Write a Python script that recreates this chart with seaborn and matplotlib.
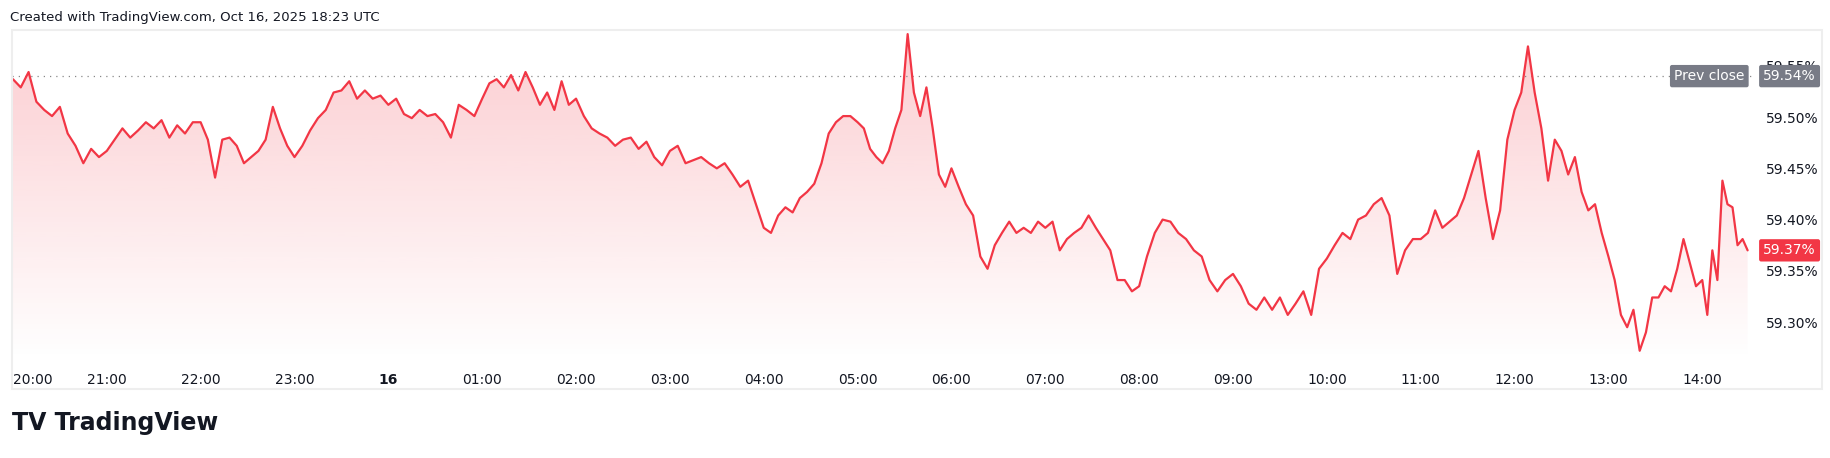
import numpy as np
import pandas as pd
import matplotlib
matplotlib.use("Agg")
import matplotlib.pyplot as plt
import seaborn as sns
from matplotlib.patches import Rectangle

# hourly segments of yield values (%), equally spaced within each hour
h20 = [59.537, 59.529, 59.544, 59.515, 59.507, 59.501, 59.510, 59.484, 59.472, 59.455, 59.469, 59.461]
h21 = [59.467, 59.478, 59.489, 59.480, 59.487, 59.495, 59.489, 59.497, 59.480, 59.492, 59.484, 59.495]
h22 = [59.495, 59.478, 59.441, 59.478, 59.480, 59.472, 59.455, 59.461, 59.467, 59.478, 59.510, 59.489, 59.472]
h23 = [59.461, 59.472, 59.487, 59.499, 59.507, 59.524, 59.526, 59.535, 59.518, 59.526, 59.518, 59.521]
h00 = [59.512, 59.518, 59.503, 59.499, 59.507, 59.501, 59.503, 59.495, 59.480, 59.512, 59.507, 59.501]
h01 = [59.518, 59.533, 59.537, 59.529, 59.541, 59.526, 59.544, 59.529, 59.512, 59.524, 59.507, 59.535, 59.512]
h02 = [59.518, 59.501, 59.489, 59.484, 59.480, 59.472, 59.478, 59.480, 59.469, 59.476, 59.461, 59.453]
h03 = [59.467, 59.472, 59.455, 59.458, 59.461, 59.455, 59.450, 59.455, 59.444, 59.432, 59.438, 59.415]
h04 = [59.392, 59.387, 59.404, 59.412, 59.407, 59.421, 59.427, 59.435, 59.455, 59.484, 59.495, 59.501, 59.501]
h05 = [59.495, 59.489, 59.469, 59.461, 59.455, 59.467, 59.489, 59.507, 59.581, 59.524, 59.501, 59.529, 59.489, 59.444, 59.432]
h06 = [59.450, 59.432, 59.415, 59.404, 59.364, 59.352, 59.375, 59.387, 59.398, 59.387, 59.392, 59.387, 59.398]
h07 = [59.392, 59.398, 59.370, 59.381, 59.387, 59.392, 59.404, 59.392, 59.381, 59.370, 59.341, 59.341, 59.330]
h08 = [59.335, 59.364, 59.387, 59.400, 59.398, 59.387, 59.381, 59.370, 59.364, 59.341, 59.330, 59.341]
h09 = [59.347, 59.335, 59.318, 59.312, 59.324, 59.312, 59.324, 59.307, 59.318, 59.330, 59.307, 59.352]
h10 = [59.362, 59.375, 59.387, 59.381, 59.400, 59.404, 59.415, 59.421, 59.404, 59.347, 59.370, 59.381]
h11 = [59.381, 59.387, 59.409, 59.392, 59.398, 59.404, 59.421, 59.444, 59.467, 59.421, 59.381, 59.409, 59.478]
h12 = [59.507, 59.524, 59.569, 59.524, 59.489, 59.438, 59.478, 59.467, 59.444, 59.461, 59.427, 59.409, 59.415, 59.387]
h13 = [59.364, 59.341, 59.307, 59.295, 59.312, 59.272, 59.290, 59.324, 59.324, 59.335, 59.330, 59.352, 59.381, 59.358, 59.335]
h14 = [59.341, 59.307, 59.370, 59.341, 59.438, 59.415, 59.412, 59.375, 59.381, 59.370]
segments = [h20, h21, h22, h23, h00, h01, h02, h03, h04, h05, h06, h07, h08, h09, h10, h11, h12, h13, h14]
last_minutes = 29
prev_close = 59.54
last_value = 59.37
yticks = [59.30, 59.35, 59.40, 59.45, 59.50, 59.55]
xtick_labels = ["20:00", "21:00", "22:00", "23:00", "16", "01:00", "02:00", "03:00", "04:00",
                "05:00", "06:00", "07:00", "08:00", "09:00", "10:00", "11:00", "12:00", "13:00", "14:00"]

start = pd.Timestamp("2025-10-15 20:00")
times, vals = [], []
for i, seg in enumerate(segments):
    span = 60 if i < len(segments) - 1 else last_minutes
    n = len(seg)
    step = span / (n if i < len(segments) - 1 else n - 1)
    for j, v in enumerate(seg):
        times.append(start + pd.Timedelta(hours=i) + pd.Timedelta(minutes=j * step))
        vals.append(v)
df = pd.DataFrame({"t": times, "v": vals})
df["h"] = (df["t"] - start).dt.total_seconds() / 3600

RED = "#F23645"
sns.set_theme(style="white")
plt.rcParams['font.family'] = ['DejaVu Sans']
fig = plt.figure(figsize=(18.31, 4.58), dpi=100)
fig.patches.append(Rectangle((12/1831, 1-389/458), (1822-12)/1831, (389-30)/458,
                             transform=fig.transFigure, fill=False, ec="#eeeeee", lw=1.5))
ax = fig.add_axes([12/1831, 1-360/458, (1752-12)/1831, (360-30)/458])
ymin, ymax = 59.263, 59.585
ax.set_xlim(-0.01, 18.53)
ax.set_ylim(ymin, ymax)

# gradient fill
grad = np.linspace(0.25, 0.0, 256).reshape(-1, 1)
rgba = np.zeros((256, 1, 4))
rgba[..., 0], rgba[..., 1], rgba[..., 2] = 242/255, 54/255, 69/255
rgba[..., 3] = grad
top = max(vals)
im = ax.imshow(rgba, extent=[0, df["h"].iloc[-1], ymin, top], aspect="auto", origin="upper", zorder=1)
poly = ax.fill_between(df["h"], df["v"], ymin, color="none")
im.set_clip_path(poly.get_paths()[0], transform=ax.transData)
sns.lineplot(data=df, x="h", y="v", ax=ax, color=RED, lw=1.6, zorder=3)
ax.axhline(prev_close, color="#888888", ls=(0, (1, 4)), lw=0.9, zorder=2)

for s in ax.spines.values():
    s.set_visible(False)
ax.set_xlabel(""); ax.set_ylabel("")
ax.yaxis.tick_right()
ax.set_yticks(yticks)
ax.set_yticklabels([f"{y:.2f}%" for y in yticks], fontsize=10, color="#131722")
ax.tick_params(axis="y", length=0, pad=10)
ax.set_xticks(range(len(xtick_labels)))
ax.set_xticklabels(xtick_labels, fontsize=10, color="#131722")
for lab in ax.get_xticklabels():
    if lab.get_text() == "16":
        lab.set_fontweight("bold")
    if lab.get_text() == "20:00":
        lab.set_ha("left")
ax.tick_params(axis="x", length=0, pad=9)

# labels on the price axis
box = lambda c: dict(boxstyle="round,pad=0.3,rounding_size=0.15", fc=c, ec="none")
xr = 18.53
ax.text(xr + 0.12, prev_close, "59.54%", color="white", fontsize=10, va="center", ha="left",
        bbox=box("#787b86"), clip_on=False, zorder=6)
ax.text(xr - 0.08, prev_close, "Prev close", color="white", fontsize=10, va="center", ha="right",
        bbox=box("#787b86"), clip_on=False, zorder=6)
ax.text(xr + 0.12, last_value, "59.37%", color="white", fontsize=10, va="center", ha="left",
        bbox=box(RED), clip_on=False, zorder=6)

fig.text(10/1831, 1-17/458, "Created with TradingView.com, Oct 16, 2025 18:23 UTC",
         fontsize=9.5, color="#131722", va="center")
fig.text(12/1831, 1-423/458, "TV TradingView", fontsize=17, fontweight="bold",
         color="#131722", va="center")
fig.savefig("out.png", dpi=100)
